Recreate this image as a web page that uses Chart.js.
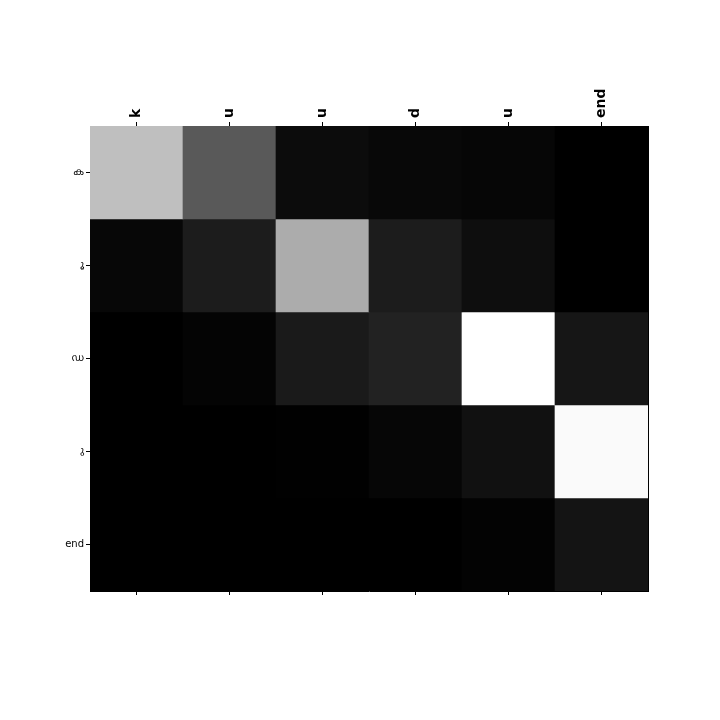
<!DOCTYPE html>
<html>
<head>
<meta charset="utf-8">
<script src="https://cdn.jsdelivr.net/npm/chart.js@4.4.1/dist/chart.umd.min.js"></script>
<style>
html,body{margin:0;padding:0;background:#fff;}
#wrap{width:720px;height:720px;}
</style>
</head>
<body>
<div id="wrap"><canvas id="c" width="720" height="720"></canvas></div>
<script>
// Output (column) labels and input (row) labels
const colLabels = ["k", "u", "u", "d", "u", "end"];
const rowLabels = ["ക", "\u00A0ൂ", "ഡ", "\u00A0ു", "end"];
// Attention weights (row = input char, column = output char), gray level = value
const row0 = [0.75, 0.35, 0.047, 0.031, 0.024, 0.0];
const row1 = [0.027, 0.11, 0.675, 0.11, 0.055, 0.0];
const row2 = [0.0, 0.016, 0.10, 0.133, 1.0, 0.086];
const row3 = [0.0, 0.0, 0.004, 0.024, 0.067, 0.98];
const row4 = [0.0, 0.0, 0.0, 0.0, 0.012, 0.078];
const rows = [row0, row1, row2, row3, row4];

function gray(v){ const g = Math.round(Math.max(0, Math.min(1, v)) * 255); return `rgb(${g},${g},${g})`; }

const datasets = rows.map((vals, r) => ({
  label: rowLabels[r],
  data: vals.map(() => [r, r + 1]),
  backgroundColor: vals.map(gray),
  borderWidth: 0,
  barPercentage: 1.0,
  categoryPercentage: 1.0,
  grouped: false,
  xAxisID: 'x',
  yAxisID: 'y'
}));

const tickFont = {family: "'DejaVu Sans', 'Noto Sans Malayalam', 'Noto Sans', sans-serif"};

new Chart(document.getElementById('c'), {
  type: 'bar',
  data: { labels: colLabels, datasets },
  options: {
    responsive: false,
    animation: false,
    devicePixelRatio: 1,
    layout: { padding: {left: 0, right: 0, top: 0, bottom: 0} },
    plugins: { legend: {display: false}, tooltip: {enabled: false} },
    scales: {
      x: {
        type: 'category', position: 'top', offset: true,
        grid: { offset: false, drawOnChartArea: false, tickLength: 4, tickColor: '#000', tickWidth: 1 },
        border: { display: true, color: '#000', width: 1 },
        ticks: { color: '#000', minRotation: 90, maxRotation: 90, padding: 4, labelOffset: 17,
                 font: Object.assign({size: 14, weight: 'bold'}, tickFont) },
        afterFit: s => { s.height = 126; }
      },
      x2: {
        type: 'category', position: 'bottom', offset: true,
        grid: { offset: false, drawOnChartArea: false, tickLength: 4, tickColor: '#000', tickWidth: 1 },
        border: { display: true, color: '#000', width: 1 },
        ticks: { callback: () => '', color: '#000' },
        afterFit: s => { s.height = 129; }
      },
      y: {
        type: 'linear', position: 'left', min: 0, max: rowLabels.length, reverse: true,
        afterBuildTicks: s => { s.ticks = rowLabels.map((_, i) => ({value: i + 0.5})); },
        grid: { drawOnChartArea: false, tickLength: 4, tickColor: '#000', tickWidth: 1 },
        border: { display: true, color: '#000', width: 1 },
        ticks: { color: '#000', padding: 2, autoSkip: false,
                 callback: v => rowLabels[Math.round(v - 0.5)],
                 font: Object.assign({size: 10}, tickFont) },
        afterFit: s => { s.width = 90; }
      },
      y2: {
        type: 'linear', position: 'right', min: 0, max: 5,
        grid: { display: false, drawOnChartArea: false, drawTicks: false },
        border: { display: true, color: '#000', width: 1 },
        ticks: { display: false },
        afterFit: s => { s.width = 72; }
      }
    }
  }
});
</script>
</body>
</html>
